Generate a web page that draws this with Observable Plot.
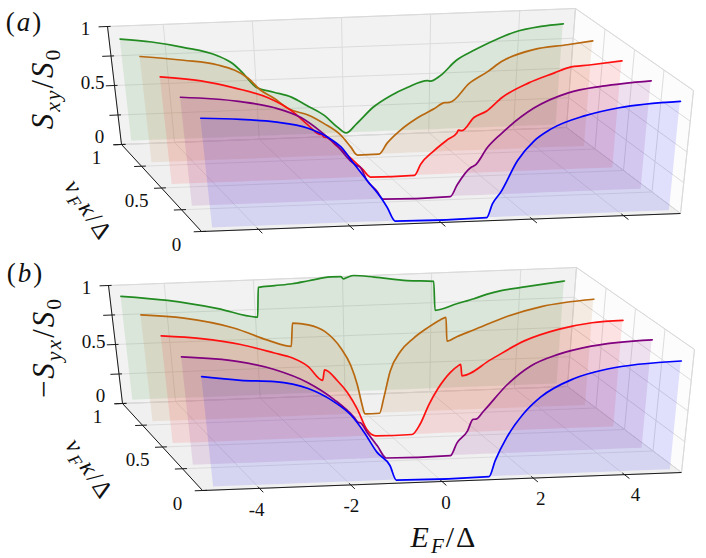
<!DOCTYPE html>
<html>
<head>
<meta charset="utf-8">
<script src="https://cdn.jsdelivr.net/npm/d3@7"></script>
<script src="https://cdn.jsdelivr.net/npm/@observablehq/plot@0.6"></script>
<style>
  html, body { margin: 0; padding: 0; background: #fff; }
  #chart svg { display: block; }
</style>
</head>
<body>
<div id="chart"></div>
<script>
// ---------------- DATA ----------------
const kLevels = [1, 0.75, 0.5, 0.25, 0];            // v_F kappa / Delta of each curve
const curveColors = ["#228b22", "#b8680f", "#ff1010", "#800080", "#0000ff"];
const eTicks = [-4, -2, 0, 2, 4];
const sTicks = [0, 0.25, 0.5, 0.75, 1];
const sTickLabels = ["0", "", "0.5", "", "1"];
const kTicks = [0, 0.25, 0.5, 0.75, 1];
const kTickLabels = ["0", "", "0.5", "", "1"];

// panel (a): S_xy / S_0
const Ea1 = [-5, -4.3, -3.6, -2.85, -2.5, -2.3, -2.0, -1.6, -1.2, -0.85, -0.45, -0.15, 0.05, 0.3, 0.7, 1.1, 1.5, 1.95, 2.02, 2.25, 2.6, 3.0, 3.6, 3.9, 4.5, 5];
const Sa1 = [0.865, 0.83, 0.775, 0.695, 0.62, 0.545, 0.415, 0.367, 0.32, 0.245, 0.155, 0.052, 0.0, 0.074, 0.21, 0.30, 0.366, 0.415, 0.41, 0.454, 0.575, 0.655, 0.755, 0.795, 0.835, 0.85];
const Ea2 = [-5, -4.05, -3.3, -2.65, -2.4, -2.1, -1.77, -1.35, -1.0, -0.63, -0.4, -0.25, 0.25, 0.44, 0.75, 1.13, 1.52, 1.75, 1.86, 2.3, 2.7, 3.0, 3.7, 4.44, 5];
const Sa2 = [0.89, 0.845, 0.795, 0.675, 0.575, 0.50, 0.405, 0.35, 0.275, 0.175, 0.07, 0, 0, 0.09, 0.195, 0.29, 0.365, 0.41, 0.41, 0.565, 0.655, 0.735, 0.825, 0.855, 0.88];
const Ea3 = [-5, -4.13, -3.4, -2.7, -2.2, -1.86, -1.62, -1.55, -1.52, -1.46, -1.23, -0.94, -0.67, -0.5, 0.5, 0.64, 0.93, 1.24, 1.45, 1.48, 1.56, 1.82, 2.1, 2.42, 3.0, 3.55, 3.85, 4.3, 5];
const Sa3 = [0.89, 0.845, 0.775, 0.685, 0.57, 0.45, 0.37, 0.365, 0.345, 0.34, 0.265, 0.165, 0.065, 0, 0, 0.09, 0.195, 0.285, 0.34, 0.36, 0.355, 0.46, 0.51, 0.615, 0.73, 0.805, 0.845, 0.86, 0.885];
const Ea4 = [-5, -3.78, -3.04, -2.47, -2.06, -1.71, -1.44, -1.3, -1.24, -1.1, -0.88, -0.75, 0.75, 0.9, 1.19, 1.24, 1.29, 1.55, 1.83, 2.53, 3.25, 3.97, 5];
const Sa4 = [0.89, 0.84, 0.78, 0.69, 0.57, 0.445, 0.32, 0.28, 0.27, 0.16, 0.065, 0, 0, 0.095, 0.23, 0.24, 0.25, 0.39, 0.495, 0.70, 0.815, 0.86, 0.89];
const Ea5 = [-5, -4.18, -3.47, -2.78, -2.37, -2.11, -1.85, -1.58, -1.3, -1.17, -1.0, 1.0, 1.12, 1.3, 1.64, 1.98, 2.32, 3.03, 3.73, 5];
const Sa5 = [0.885, 0.865, 0.835, 0.775, 0.695, 0.615, 0.475, 0.335, 0.195, 0.115, 0, 0, 0.11, 0.205, 0.455, 0.61, 0.70, 0.80, 0.855, 0.89];

// panel (b): -S_yx / S_0
const Eb1 = [-5, -3.96, -2.84, -1.95, -1.9, -1.53, -1.13, -0.76, -0.27, -0.04, 0.02, 0.1, 0.25, 0.71, 1.45, 2.05, 2.09, 2.6, 2.97, 3.27, 3.58, 4.03, 5];
const Sb1 = [0.88, 0.83, 0.745, 0.66, 0.91, 0.92, 0.93, 0.95, 0.975, 0.975, 0.955, 0.965, 0.98, 0.96, 0.92, 0.905, 0.66, 0.71, 0.745, 0.78, 0.805, 0.825, 0.865];
const Eb2 = [-5, -4.06, -2.96, -2.24, -1.72, -1.67, -1.32, -0.96, -0.61, -0.4, -0.26, -0.16, -0.1, 0.24, 0.34, 0.49, 0.73, 1.02, 1.32, 1.61, 1.74, 1.77, 1.99, 2.36, 3.11, 3.85, 5];
const Sb2 = [0.895, 0.855, 0.755, 0.645, 0.585, 0.78, 0.76, 0.70, 0.555, 0.41, 0.245, 0.075, 0, 0, 0.125, 0.345, 0.51, 0.615, 0.695, 0.76, 0.78, 0.58, 0.615, 0.665, 0.77, 0.84, 0.885];
const Eb3 = [-5, -4.14, -3.3, -2.58, -2.2, -1.86, -1.55, -1.5, -1.22, -1.01, -0.8, -0.6, -0.4, 0.42, 0.6, 0.8, 1.0, 1.27, 1.45, 1.5, 1.53, 2.16, 2.88, 3.61, 4.33, 5];
const Sb3 = [0.89, 0.855, 0.795, 0.715, 0.67, 0.595, 0.475, 0.56, 0.465, 0.365, 0.225, 0.055, 0, 0, 0.08, 0.24, 0.37, 0.50, 0.555, 0.565, 0.47, 0.595, 0.74, 0.825, 0.87, 0.88];
const Eb4 = [-5, -3.8, -3.05, -2.36, -1.81, -1.38, -1.3, -1.25, -1.1, -0.89, -0.7, 0.73, 0.87, 1.1, 1.22, 1.28, 1.45, 1.95, 2.44, 3.0, 3.71, 5];
const Sb4 = [0.885, 0.83, 0.755, 0.64, 0.495, 0.34, 0.30, 0.295, 0.21, 0.10, 0, 0, 0.10, 0.195, 0.29, 0.29, 0.355, 0.565, 0.71, 0.795, 0.855, 0.89];
const Eb5 = [-5, -4.2, -3.49, -2.8, -2.27, -1.92, -1.66, -1.4, -1.13, -1.0, 1.03, 1.16, 1.4, 1.74, 2.09, 2.77, 3.47, 5];
const Sb5 = [0.89, 0.85, 0.83, 0.765, 0.65, 0.535, 0.395, 0.23, 0.12, 0, 0, 0.13, 0.315, 0.5, 0.63, 0.77, 0.84, 0.885];

// ---------------- 3D box projection (layout) ----------------
const E0 = -5.25, E1 = 5.25;          // E axis extent of the box
const baseLift = 0.025;               // curves sit slightly above the floor line
const FRONT = {s0l: [201, 231], s0r: [680, 213], s1l: [187, 107], s1r: [693, 90]};
const BACK  = {s0l: [121, 144], s0r: [566, 127], s1l: [107, 26],  s1r: [575, 8]};
function lerp2(a, b, t) { return [a[0] + (b[0] - a[0]) * t, a[1] + (b[1] - a[1]) * t]; }
function face(F, u, w) { return lerp2(lerp2(F.s0l, F.s0r, u), lerp2(F.s1l, F.s1r, u), w); }
function proj(p, E, k, S) {
  const u = (E - E0) / (E1 - E0);
  const q = lerp2(face(FRONT, u, S), face(BACK, u, S), k);
  return [q[0] + p.dx, q[1] + p.dy];
}

const panels = [
  {dx: 0, dy: 0, letter: "(~{a})", letterDy: -4, title: "~{S}_{xy}/~{S}_{0}", E: [Ea1, Ea2, Ea3, Ea4, Ea5], S: [Sa1, Sa2, Sa3, Sa4, Sa5], eLabels: false},
  {dx: 1, dy: 259, letter: "(~{b})", letterDy: -12, title: "\u2212~{S}_{yx}/~{S}_{0}", E: [Eb1, Eb2, Eb3, Eb4, Eb5], S: [Sb1, Sb2, Sb3, Sb4, Sb5], eLabels: true}
];

const FONT = "'Liberation Serif', 'DejaVu Serif', serif";
const marks = [];
const pt = (p, E, k, S) => { const [x, y] = proj(p, E, k, S); return {x, y}; };
const seg = (p, a, b) => { const [x1, y1] = proj(p, ...a); const [x2, y2] = proj(p, ...b); return {x1, y1, x2, y2}; };

for (const p of panels) {
  // panes
  const backWall = [[E0,1,0],[E1,1,0],[E1,1,1],[E0,1,1],[E0,1,0]].map(c => pt(p, ...c));
  const rightWall = [[E1,1,0],[E1,0,0],[E1,0,1],[E1,1,1],[E1,1,0]].map(c => pt(p, ...c));
  const floor = [[E0,0,0],[E1,0,0],[E1,1,0],[E0,1,0],[E0,0,0]].map(c => pt(p, ...c));
  marks.push(Plot.line(backWall, {x: "x", y: "y", fill: "#f2f2f2", stroke: "#d4d4d4", strokeWidth: 0.8, curve: "linear"}));
  marks.push(Plot.line(rightWall, {x: "x", y: "y", fill: "#fcfcfc", stroke: "#d4d4d4", strokeWidth: 0.8, curve: "linear"}));
  marks.push(Plot.line(floor, {x: "x", y: "y", fill: "#f0f0f0", stroke: "#d4d4d4", strokeWidth: 0.8, curve: "linear"}));

  // grid lines
  const grid = [];
  for (const e of eTicks) { grid.push(seg(p, [e,1,0], [e,1,1])); grid.push(seg(p, [e,0,0], [e,1,0])); }
  for (const s of sTicks) { grid.push(seg(p, [E0,1,s], [E1,1,s])); grid.push(seg(p, [E1,0,s], [E1,1,s])); }
  for (const k of kTicks) { grid.push(seg(p, [E0,k,0], [E1,k,0])); grid.push(seg(p, [E1,k,0], [E1,k,1])); }
  marks.push(Plot.link(grid, {x1: "x1", y1: "y1", x2: "x2", y2: "y2", stroke: "#d9d9d9", strokeWidth: 0.9}));

  // axis lines and ticks
  const axes = [seg(p, [E0,1,0], [E0,1,1]), seg(p, [E0,1,0], [E0,0,0]), seg(p, [E0,0,0], [E1,0,0])];
  for (const s of sTicks) axes.push(seg(p, [E0 - 0.2, 1, s], [E0 + 0.07, 1, s]));
  for (const k of kTicks) axes.push(seg(p, [E0 - 0.17, k, 0], [E0 + 0.1, k, 0]));
  for (const e of eTicks) axes.push(seg(p, [e, 0.02, 0], [e, -0.045, 0]));
  marks.push(Plot.link(axes, {x1: "x1", y1: "y1", x2: "x2", y2: "y2", stroke: "#1a1a1a", strokeWidth: 1}));

  // tick labels
  const sLab = sTicks.map((s, i) => ({...pt(p, E0, 1, s), t: sTickLabels[i], off: 10 * s - 8})).filter(d => d.t);
  marks.push(Plot.text(sLab, {x: "x", y: (d) => d.y + d.off, text: "t", dx: -22, fontSize: 19, fontFamily: FONT, fill: "#111"}));
  const kLab = kTicks.map((k, i) => ({...pt(p, E0, k, 0), t: kTickLabels[i]})).filter(d => d.t);
  marks.push(Plot.text(kLab, {x: "x", y: "y", text: "t", dx: -25, dy: 13, fontSize: 19, fontFamily: FONT, fill: "#111"}));
  if (p.eLabels) {
    const eLab = eTicks.map(e => ({...pt(p, e * 1.038, 0, 0), t: String(e)}));
    marks.push(Plot.text(eLab, {x: "x", y: "y", text: "t", dx: 4, dy: 21, fontSize: 19, fontFamily: FONT, fill: "#111"}));
    marks.push(Plot.text([{...pt(p, 0, 0, 0), t: "~{E}_{F}/\u0394"}], {x: "x", y: "y", text: "t", dx: 2, dy: 56, fontSize: 30, fontFamily: FONT, fill: "#111"}));
  }

  // axis titles and panel letter
  marks.push(Plot.text([{...pt(p, E0, 1, 0.5), t: p.title}], {x: "x", y: "y", text: "t", dx: -71, dy: 3, rotate: -90, fontSize: 31, fontFamily: FONT, fill: "#111"}));
  marks.push(Plot.text([{...pt(p, E0, 0.5, 0), t: "~{v}_{F}~{\u03ba}/\u0394"}], {x: "x", y: "y", text: "t", dx: -73, dy: 22, rotate: 57, fontSize: 25, fontFamily: FONT, fill: "#111"}));
  marks.push(Plot.text([{...pt(p, E0, 1, 1), t: p.letter}], {x: "x", y: "y", text: "t", dx: -83, dy: p.letterDy, fontSize: 27, fontFamily: FONT, fill: "#111"}));

  // curves, back to front: fill then line
  kLevels.forEach((k, i) => {
    const Es = p.E[i], Ss = p.S[i];
    const rows = Es.map((e, j) => {
      const [xt, yt] = proj(p, e, k, Ss[j] + baseLift);
      const [xb, yb] = proj(p, e, k, baseLift);
      return {xt, yt, xb, yb};
    });
    marks.push(Plot.area(rows, {x1: "xb", y1: "yb", x2: "xt", y2: "yt", fill: curveColors[i], fillOpacity: 0.11, curve: "monotone-x"}));
    marks.push(Plot.line(rows, {x: "xt", y: "yt", stroke: curveColors[i], strokeWidth: 1.7, curve: "monotone-x"}));
  });
}

const svg = Plot.plot({
  width: 706, height: 558, margin: 0,
  x: {domain: [0, 706], range: [0, 706], axis: null},
  y: {domain: [0, 558], range: [0, 558], axis: null},
  style: {background: "#ffffff"},
  marks
});

// ---------- simple markup: ~{..} italic, _{..} subscript ----------
function parseMarkup(s) {
  const segs = []; let buf = ""; let i = 0;
  const flush = () => { if (buf) { segs.push({t: buf}); buf = ""; } };
  while (i < s.length) {
    if ((s[i] === "_" || s[i] === "~") && s[i + 1] === "{") {
      flush();
      const j = s.indexOf("}", i);
      const t = s.slice(i + 2, j);
      segs.push({t, sub: s[i] === "_", it: !/^\d+$/.test(t)});
      i = j + 1;
    } else { buf += s[i]; i++; }
  }
  flush();
  return segs;
}
svg.querySelectorAll("text").forEach(node => {
  const s = node.textContent;
  if (!/[_~]\{/.test(s)) return;
  const segs = parseMarkup(s);
  while (node.firstChild) node.removeChild(node.firstChild);
  let prevSub = false;
  for (const g of segs) {
    const ts = document.createElementNS("http://www.w3.org/2000/svg", "tspan");
    ts.textContent = g.t;
    if (g.it) ts.setAttribute("font-style", "italic");
    if (g.sub) {
      ts.setAttribute("font-size", "70%");
      if (!prevSub) ts.setAttribute("dy", "0.3em");
      prevSub = true;
    } else {
      if (prevSub) ts.setAttribute("dy", "-0.21em");
      prevSub = false;
    }
    node.appendChild(ts);
  }
  node.setAttribute("letter-spacing", "2px");
});

document.getElementById("chart").appendChild(svg);
</script>
</body>
</html>
